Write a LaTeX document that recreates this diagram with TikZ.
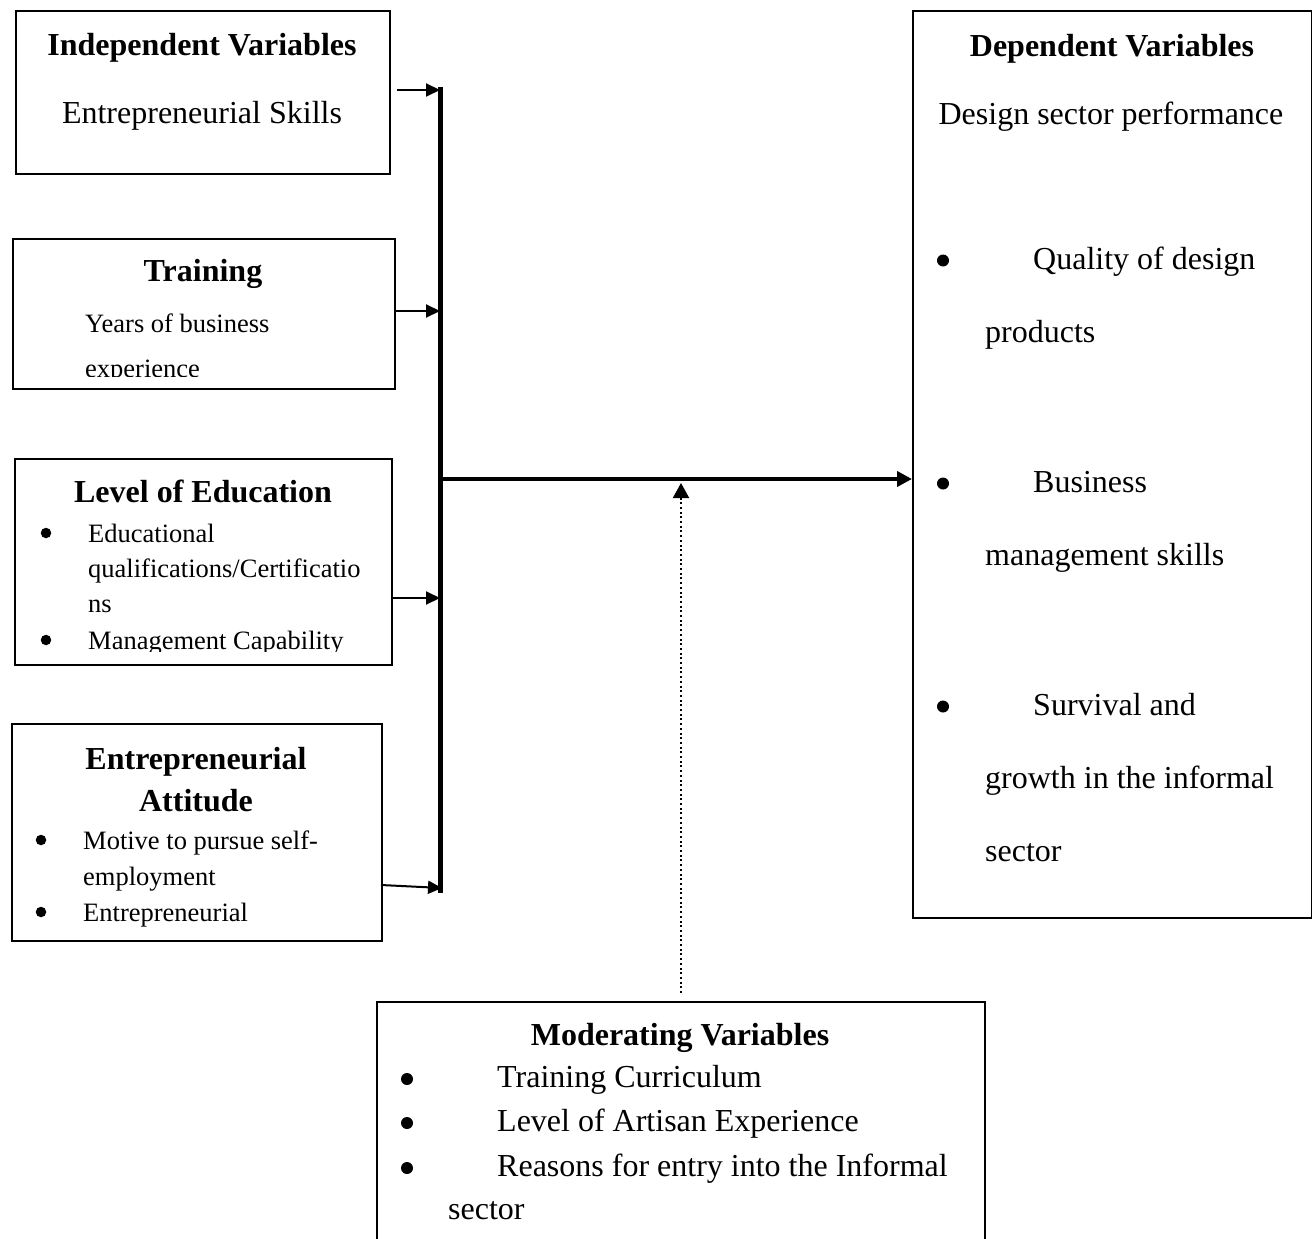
\documentclass[tikz,border=0pt]{standalone}
\usepackage{fontspec}
\setmainfont{Liberation Serif}
\usetikzlibrary{arrows.meta}
\begin{document}
\begin{tikzpicture}[x=1pt,y=-1pt,
  box/.style={draw,line width=2pt,inner sep=0pt,anchor=north west},
  big/.style={font=\fontsize{32}{38}\selectfont,inner sep=0pt,anchor=base},
  bigb/.style={font=\fontsize{32}{38}\selectfont\bfseries,inner sep=0pt,anchor=base},
  small/.style={font=\fontsize{26.5}{32}\selectfont,inner sep=0pt,anchor=base west},
  bigl/.style={font=\fontsize{32}{38}\selectfont,inner sep=0pt,anchor=base west},
  bbul/.style={circle,fill,inner sep=0pt,minimum size=12pt},
  sbul/.style={circle,fill,inner sep=0pt,minimum size=10.5pt},
  conn/.style={line width=2pt,-{Triangle[length=14pt,width=13pt]}},
]
\clip (0,0) rectangle (1312,1239);
\fill[white] (0,0) rectangle (1312,1239);

% boxes
\node[box,minimum width=374pt,minimum height=163pt] (iv) at (15,10) {};
\node[box,minimum width=382pt,minimum height=150pt] (tr) at (12,238) {};
\node[box,minimum width=377pt,minimum height=206pt] (ed) at (14,458) {};
\node[box,minimum width=370pt,minimum height=217pt] (at) at (11,723) {};
\node[box,minimum width=399pt,minimum height=907pt] (dep) at (912,10) {};
\node[box,minimum width=608pt,minimum height=260pt] (mod) at (376,1001) {};

% Independent variables
\node[bigb] (ivt) at (202,56) {Independent Variables};
\node[big] (ivs) at (202,123) {Entrepreneurial Skills};

% Training
\node[bigb] (trt) at (203,281) {Training};
\begin{scope}
\clip (12,238) rectangle (394,376);
\node[small] (tr1) at (85,332) {Years of business};
\node[small] (tr2) at (85,377) {experience};
\end{scope}

% Level of education
\node[bigb] (edt) at (203,502) {Level of Education};
\begin{scope}
\clip (14,458) rectangle (391,651);
\node[sbul] (edb1) at (46,533) {};
\node[small] (ed1) at (88,542) {Educational};
\node[small] (ed2) at (88,577) {qualifications/Certificatio};
\node[small] (ed3) at (88,612) {ns};
\node[sbul] (edb2) at (46,640) {};
\node[small] (ed4) at (88,649) {Management Capability};
\end{scope}

% Entrepreneurial attitude
\node[bigb] (att1) at (196,769) {Entrepreneurial};
\node[bigb] (att2) at (196,811) {Attitude};
\node[sbul] (atb1) at (41,840) {};
\node[small] (at1) at (83,849) {Motive to pursue self-};
\node[small] (at2) at (83,885) {employment};
\node[sbul] (atb2) at (41,912) {};
\node[small] (at3) at (83,921) {Entrepreneurial};

% Dependent variables
\node[bigb] (dept) at (1112,57) {Dependent Variables};
\node[big] (deps) at (1111,124) {Design sector performance};
\node[bbul] (db1) at (943,260.5) {};
\node[bigl] (d1) at (1033,269) {Quality of design};
\node[bigl] (d2) at (985,342) {products};
\node[bbul] (db2) at (943,483.5) {};
\node[bigl] (d3) at (1033,492) {Business};
\node[bigl] (d4) at (985,565) {management skills};
\node[bbul] (db3) at (943,706.5) {};
\node[bigl] (d5) at (1033,715) {Survival and};
\node[bigl] (d6) at (985,788) {growth in the informal};
\node[bigl] (d7) at (985,861) {sector};

% Moderating variables
\node[bigb] (modt) at (680,1045) {Moderating Variables};
\node[bbul] (mb1) at (407,1079) {};
\node[bigl] (m1) at (497,1087) {Training Curriculum};
\node[bbul] (mb2) at (407,1123) {};
\node[bigl] (m2) at (497,1131) {Level of Artisan Experience};
\node[bbul] (mb3) at (407,1168) {};
\node[bigl] (m3) at (497,1176) {Reasons for entry into the Informal};
\node[bigl] (m4) at (448,1219) {sector};

% bar and connectors
\coordinate (bartop) at (440,87);
\coordinate (barbot) at (440,893);
\draw[line width=5pt] (bartop) -- (barbot);

\coordinate (a1) at (397,90);
\coordinate (a2) at (394,311);
\coordinate (a3) at (391,598);
\coordinate (a4) at (381,885);
\draw[conn] (a1) -- (a1 -| bartop);
\draw[conn] (a2) -- (a2 -| bartop);
\draw[conn] (a3) -- (a3 -| bartop);
\draw[conn] (a4) -- (442,888);

\coordinate (barmid) at (442,479);
\draw[line width=3.8pt,-{Triangle[length=15pt,width=15pt]}] (barmid) -- (barmid -| dep.west);

\coordinate (dtail) at (681,993);
\coordinate (dhead) at (681,483);
\draw[line width=2pt,dash pattern=on 2pt off 2.7pt,-{Triangle[length=15pt,width=16pt]}] (dtail) -- (dhead);
\end{tikzpicture}
\end{document}
